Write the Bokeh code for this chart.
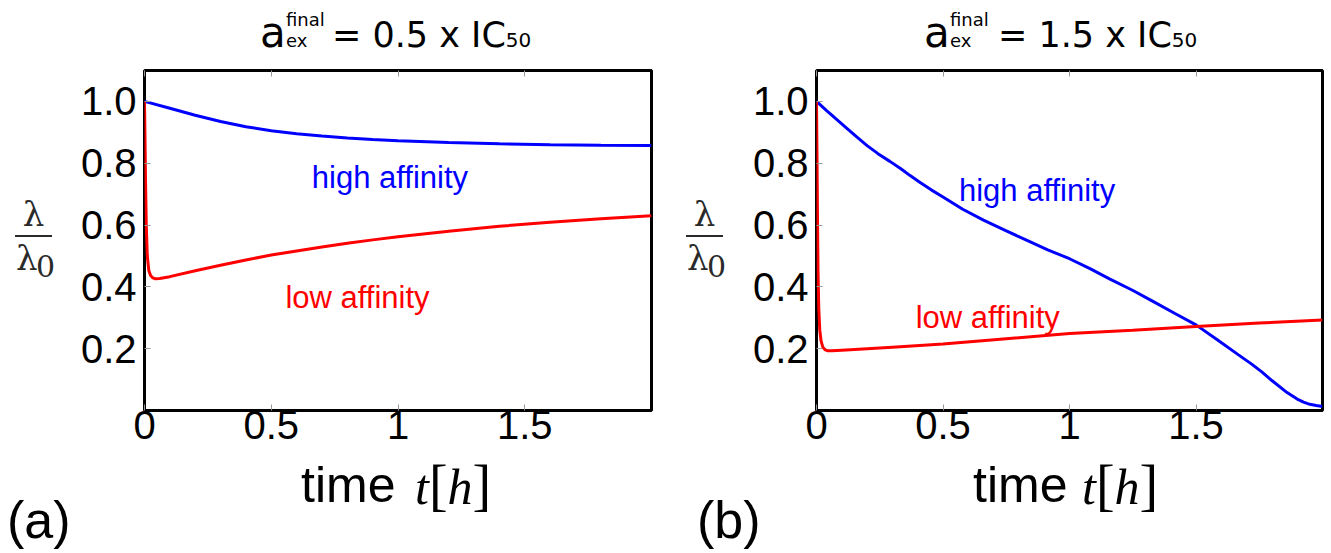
from bokeh.plotting import figure
from bokeh.models import Range1d, FixedTicker, LinearAxis, Label, Div
from bokeh.layouts import row, column
from bokeh.embed import file_html
from bokeh.resources import INLINE

# ---------------- data ----------------
t_high_a = [0, 0.1, 0.2, 0.3, 0.4, 0.5, 0.6, 0.7, 0.8, 0.9, 1.0, 1.2, 1.4, 1.6, 1.8, 2.0]
v_high_a = [1.0, 0.978, 0.955, 0.935, 0.918, 0.905, 0.895, 0.888, 0.882, 0.877, 0.873,
            0.867, 0.863, 0.860, 0.858, 0.857]

t_low_a = [0, 0.002, 0.004, 0.007, 0.011, 0.017, 0.024, 0.033, 0.043, 0.06, 0.1, 0.2, 0.3,
           0.4, 0.5, 0.6, 0.7, 0.8, 0.9, 1.0, 1.2, 1.4, 1.6, 1.8, 2.0]
v_low_a = [1.0, 0.88, 0.75, 0.60, 0.50, 0.453, 0.437, 0.429, 0.426, 0.427, 0.433, 0.452,
           0.470, 0.487, 0.503, 0.516, 0.529, 0.541, 0.552, 0.562, 0.580, 0.596, 0.609,
           0.620, 0.630]

t_high_b = [0, 0.04, 0.075, 0.12, 0.159, 0.2, 0.243, 0.29, 0.332, 0.37, 0.411, 0.455, 0.5,
            0.578, 0.66, 0.746, 0.83, 0.914, 1.0, 1.081, 1.16, 1.249, 1.33, 1.417, 1.5,
            1.584, 1.668, 1.72, 1.76, 1.8, 1.86, 1.9, 1.925, 1.95, 1.975, 2.0]
v_high_b = [1.0, 0.97, 0.945, 0.913, 0.885, 0.857, 0.831, 0.806, 0.783, 0.76, 0.737, 0.713,
            0.691, 0.651, 0.616, 0.583, 0.551, 0.52, 0.491, 0.459, 0.425, 0.389, 0.353,
            0.314, 0.277, 0.229, 0.18, 0.15, 0.125, 0.097, 0.058, 0.037, 0.027, 0.02,
            0.016, 0.013]

t_low_b = [0, 0.002, 0.004, 0.006, 0.009, 0.013, 0.018, 0.025, 0.035, 0.045, 0.06, 0.1, 0.2,
           0.3, 0.5, 0.75, 1.0, 1.25, 1.5, 1.75, 2.0]
v_low_b = [1.0, 0.82, 0.62, 0.45, 0.33, 0.26, 0.225, 0.205, 0.196, 0.193, 0.193, 0.195, 0.2,
           0.205, 0.215, 0.232, 0.249, 0.260, 0.272, 0.283, 0.293]

x_ticks = [0.0, 0.5, 1.0, 1.5]
x_tick_labels = ["0", "0.5", "1", "1.5"]
y_ticks = [0.2, 0.4, 0.6, 0.8, 1.0]
y_tick_labels = ["0.2", "0.4", "0.6", "0.8", "1.0"]

title_factors = ["= 0.5 x IC", "= 1.5 x IC"]
panel_tags = ["(a)", "(b)"]
curve_names = ["high affinity", "low affinity"]

BLUE = "#0000ff"
RED = "#ff0000"

# ---------------- layout constants ----------------
TITLE_H = 60          # title strip
FIG_TOP = 10          # border above frame inside figure
FRAME_H = 340
FIG_BOT = 48
FIG_H = FIG_TOP + FRAME_H + FIG_BOT
BOT_H = 553 - TITLE_H - FIG_H
YL_W = 70             # strip holding the y label

METRICS = {"DejaVu Sans": (0.928, 0.236), "DejaVu Serif": (0.928, 0.236),
           "Liberation Sans": (0.905, 0.212), "Liberation Serif": (0.891, 0.216)}


def top_for(baseline, size, family, lh):
    asc, desc = METRICS[family]
    return round(baseline - ((lh - size * (asc + desc)) / 2 + size * asc), 1)


def span(text, left, baseline, size, family, color="#000000", style="normal", lh=None):
    lh = size if lh is None else lh
    top = top_for(baseline, size, family, lh)
    return (f'<span style="position:absolute;left:{left}px;top:{top}px;'
            f"font-family:'{family}';font-size:{size}px;line-height:{lh}px;"
            f'color:{color};font-style:{style};white-space:nowrap;">{text}</span>')


def box(inner, w, h):
    return f'<div style="position:relative;width:{w}px;height:{h}px;">{inner}</div>'


def title_div(width, a_left, main_left, factor):
    base = 47
    f = "DejaVu Sans"
    html = ""
    html += span("a", a_left, base, 42, f, lh=34)
    html += span("final", a_left + 26, 26, 18, f, lh=14)
    html += span("ex", a_left + 26, 47.5, 18, f, lh=14)
    html += span(factor + '<span style="font-size:20px;line-height:20px;">50</span>',
                 main_left, base, 35, f, lh=30)
    return Div(text=box(html, width, TITLE_H), width=width, height=TITLE_H, margin=0)


def ylabel_div(bar_left):
    y0 = TITLE_H
    c = "#2a2a2a"
    f = "DejaVu Serif"
    html = ""
    html += (f'<div style="position:absolute;left:{bar_left}px;width:37px;'
             f'top:{top_for(226 - y0, 34, f, 34)}px;text-align:center;'
             f"font-family:'{f}';font-size:34px;line-height:34px;color:{c};\">λ</div>")
    html += (f'<div style="position:absolute;left:{bar_left}px;top:{236 - y0 - 1}px;'
             f'width:37px;height:0;border-top:2.5px solid {c};"></div>')
    html += span("λ", bar_left + 1, 270 - y0, 34, f, c)
    html += span("0", bar_left + 21, 277 - y0, 30, f, c)
    return Div(text=box(html, YL_W, FIG_H), width=YL_W, height=FIG_H, margin=0)


def bottom_div(width, time_left, th_left, tag_left, tag):
    y0 = TITLE_H + FIG_H
    html = ""
    html += span("time", time_left, 502 - y0, 50, "Liberation Sans")
    br = '<span style="font-style:normal;font-size:56px;line-height:44px;">{}</span>'
    th = "t" + br.format("[") + "h" + br.format("]")
    html += span(th, th_left, 502 - y0, 50, "Liberation Serif", style="italic", lh=44)
    html += span(tag, tag_left, 538 - y0, 52, "Liberation Sans", lh=46)
    return Div(text=box(html, width, BOT_H), width=width, height=BOT_H, margin=0)


def make_panel(width, fl, fw, th, tl, high_lab, low_lab):
    p = figure(width=width, height=FIG_H, x_range=Range1d(0, 2), y_range=Range1d(0, 1.1),
               output_backend="svg", toolbar_location=None,
               min_border_left=fl, min_border_right=width - fl - fw,
               min_border_top=FIG_TOP, min_border_bottom=FIG_BOT)
    p.grid.visible = False
    p.background_fill_color = "white"
    p.border_fill_color = "white"
    p.outline_line_color = "black"
    p.outline_line_width = 3

    xa = p.xaxis[0]
    xa.ticker = FixedTicker(ticks=x_ticks)
    xa.major_label_overrides = dict(zip(x_ticks, x_tick_labels))
    ya = p.yaxis[0]
    ya.ticker = FixedTicker(ticks=y_ticks)
    ya.major_label_overrides = dict(zip(y_ticks, y_tick_labels))
    for ax in (xa, ya):
        ax.axis_line_color = None
        ax.major_tick_in = 6
        ax.major_tick_out = 0
        ax.major_tick_line_color = "#999999"
        ax.major_tick_line_width = 1
        ax.minor_tick_line_color = None
        ax.major_label_text_font = "Liberation Sans"
        ax.major_label_text_font_size = "40px"
        ax.major_label_text_color = "black"
    xa.major_label_standoff = 0
    ya.major_label_standoff = 8

    # top ticks only (no labels), like the inward ticks of the original
    top = LinearAxis(ticker=FixedTicker(ticks=x_ticks), axis_line_color=None,
                     major_tick_in=6, major_tick_out=0, major_tick_line_color="#999999",
                     minor_tick_line_color=None, major_label_text_font_size="0px",
                     major_label_text_color=None, major_label_standoff=0)
    p.add_layout(top, "above")

    p.line(th[0], th[1], line_color=BLUE, line_width=3)
    p.line(tl[0], tl[1], line_color=RED, line_width=3)

    p.add_layout(Label(x=high_lab[0], y=high_lab[1], text=curve_names[0],
                       text_font="Liberation Sans", text_font_size="31px",
                       text_color=BLUE, text_baseline="alphabetic"))
    p.add_layout(Label(x=low_lab[0], y=low_lab[1], text=curve_names[1],
                       text_font="Liberation Sans", text_font_size="31px",
                       text_color=RED, text_baseline="alphabetic"))
    return p


pa = make_panel(665 - YL_W, 144 - YL_W, 507, (t_high_a, v_high_a), (t_low_a, v_low_a),
                (0.66, 0.754), (0.556, 0.367))
pb = make_panel(666 - YL_W, 151 - YL_W, 506, (t_high_b, v_high_b), (t_low_b, v_low_b),
                (0.563, 0.712), (0.392, 0.302))

ta = title_div(665, 260, 332, title_factors[0])
tb = title_div(666, 259, 333, title_factors[1])
ya_div = ylabel_div(15)
yb_div = ylabel_div(21)
ba = bottom_div(665, 301, 415, 7, panel_tags[0])
bb = bottom_div(666, 308, 417, 32, panel_tags[1])

layout = column(row(ta, tb, spacing=0), row(ya_div, pa, yb_div, pb, spacing=0),
                row(ba, bb, spacing=0), spacing=0)
with open("out.html", "w", encoding="utf-8") as f:
    f.write(file_html(layout, INLINE))
